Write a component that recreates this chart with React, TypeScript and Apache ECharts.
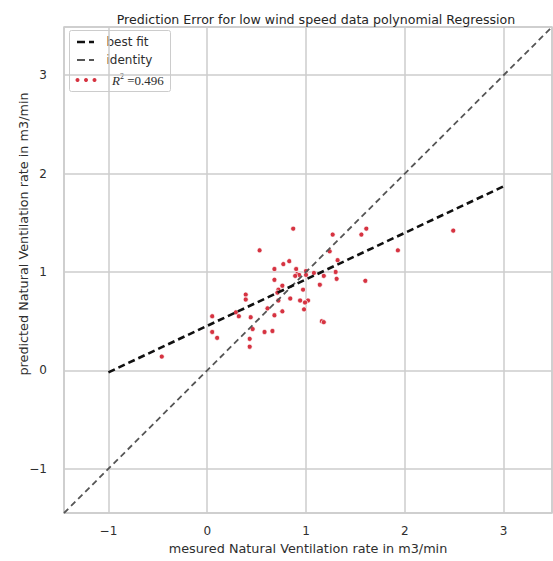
import React, { useEffect, useRef } from "react";
import * as echarts from "echarts";

const measured = [
  0.87, 1.27, 1.56, 1.61, 0.53, 1.24, 1.93, 1.32, 0.83, 0.77, 0.68, 0.9, 1.0, 0.91,
  0.93, 1.08, 1.3, 0.89, 1.0, 1.18, 0.68, 1.31, 1.6, 0.76, 1.14, 0.72, 0.97, 0.71,
  0.39, 0.39, 0.84, 0.72, 0.94, 1.02, 0.99, 0.61, 0.98, 0.76, 0.29, 0.32, 0.68, 0.05,
  0.44, 1.16, 1.18, 0.05, 0.46, 0.58, 0.66, 0.1, 0.43, 0.43, -0.46, 2.49,
];
const predicted = [
  1.44, 1.38, 1.38, 1.44, 1.22, 1.21, 1.22, 1.12, 1.11, 1.08, 1.03, 1.03, 1.01, 0.98,
  0.97, 0.99, 1.0, 0.96, 0.97, 0.96, 0.92, 0.93, 0.91, 0.86, 0.87, 0.82, 0.82, 0.79,
  0.77, 0.72, 0.73, 0.71, 0.71, 0.71, 0.69, 0.63, 0.62, 0.6, 0.59, 0.55, 0.56, 0.55,
  0.54, 0.5, 0.49, 0.39, 0.42, 0.39, 0.4, 0.33, 0.32, 0.24, 0.14, 1.42,
];
const bestFitX = [-1, 3];
const bestFitY = [-0.02, 1.87];
const identityRange = [-1.45, 3.49];
const legendLabels = ["best fit", "identity"];
const r2Value = "0.496";
const titleText = "Prediction Error for low wind speed data polynomial Regression";
const xAxisTitle = "mesured Natural Ventilation rate in m3/min";
const yAxisTitle = "predicted Natural Ventilation rate in m3/min";

const RED = "#d63341";
const GRID = "#cccccc";
const TEXT = "#2e2e2e";
const FONT = "DejaVu Sans";

export default function App() {
  const ref = useRef<HTMLDivElement>(null);
  useEffect(() => {
    if (!ref.current) return;
    const chart = echarts.init(ref.current, undefined, { renderer: "svg" });
    const fmt = (v: number) =>
      Number.isInteger(v) ? String(v).replace("-", "\u2212") : "";
    const axisCommon = {
      type: "value" as const,
      min: identityRange[0],
      max: identityRange[1],
      minInterval: 1,
      maxInterval: 1,
      axisLine: { show: false },
      axisTick: { show: false },
      splitLine: { show: true, lineStyle: { color: GRID, width: 1.5 } },
      axisLabel: {
        showMinLabel: false,
        showMaxLabel: false,
        formatter: fmt,
        color: TEXT,
        fontFamily: FONT,
        fontSize: 12,
      },
    };
    chart.setOption({
      animation: false,
      backgroundColor: "#ffffff",
      title: {
        text: titleText,
        left: 311,
        textAlign: "center",
        top: 8,
        textStyle: { fontFamily: FONT, fontSize: 12.6, fontWeight: "normal", color: "#262626" },
      },
      grid: {
        left: 64,
        right: 1,
        top: 27,
        bottom: 48,
        show: true,
        borderColor: GRID,
        borderWidth: 1.5,
        backgroundColor: "transparent",
      },
      xAxis: {
        ...axisCommon,
        name: xAxisTitle,
        nameLocation: "middle",
        nameGap: 27,
        nameTextStyle: { fontFamily: FONT, fontSize: 12.8, color: TEXT },
        axisLabel: { ...axisCommon.axisLabel, margin: 12 },
      },
      yAxis: {
        ...axisCommon,
        axisLabel: { ...axisCommon.axisLabel, margin: 17 },
      },
      series: [
        {
          type: "scatter",
          data: measured.map((m, i) => [m, predicted[i]]),
          symbolSize: 5,
          itemStyle: { color: RED, borderColor: "#ffffff", borderWidth: 0.7, opacity: 1 },
          z: 2,
        },
        {
          type: "line",
          data: [
            [identityRange[0], identityRange[0]],
            [identityRange[1], identityRange[1]],
          ],
          symbol: "none",
          lineStyle: { color: "#555555", width: 1.8, type: [6, 4] },
          z: 3,
        },
        {
          type: "line",
          data: bestFitX.map((x, i) => [x, bestFitY[i]]),
          symbol: "none",
          lineStyle: { color: "#111111", width: 2.6, type: [7, 4] },
          z: 4,
        },
      ],
      graphic: [
        {
          type: "text",
          x: 23,
          y: 234,
          rotation: Math.PI / 2,
          style: {
            text: yAxisTitle,
            fontFamily: FONT,
            fontSize: 12.8,
            fill: TEXT,
            textAlign: "center",
            textVerticalAlign: "middle",
          },
        },
        {
          type: "group",
          z: 100,
          children: [
            {
              type: "rect",
              shape: { x: 69.5, y: 30.5, width: 101, height: 61, r: 2 },
              style: { fill: "rgba(255,255,255,0.85)", stroke: GRID, lineWidth: 1 },
            },
            {
              type: "line",
              shape: { x1: 77, y1: 42, x2: 94, y2: 42 },
              style: { stroke: "#111111", lineWidth: 2.6, lineDash: [8, 4] },
            },
            {
              type: "line",
              shape: { x1: 77, y1: 60, x2: 94, y2: 60 },
              style: { stroke: "#555555", lineWidth: 1.8, lineDash: [8, 4] },
            },
            { type: "circle", shape: { cx: 77.5, cy: 80, r: 2 }, style: { fill: RED } },
            { type: "circle", shape: { cx: 86, cy: 80, r: 2 }, style: { fill: RED } },
            { type: "circle", shape: { cx: 94.5, cy: 80, r: 2 }, style: { fill: RED } },
            {
              type: "text",
              x: 106.5,
              y: 42,
              style: {
                text: legendLabels[0],
                fontFamily: FONT,
                fontSize: 12,
                fill: TEXT,
                textVerticalAlign: "middle",
              },
            },
            {
              type: "text",
              x: 106.5,
              y: 60,
              style: {
                text: legendLabels[1],
                fontFamily: FONT,
                fontSize: 12,
                fill: TEXT,
                textVerticalAlign: "middle",
              },
            },
            {
              type: "text",
              x: 112,
              y: 80,
              style: {
                text: "{i|R}{s|2}{n| =" + r2Value + "}",
                textVerticalAlign: "middle",
                rich: {
                  i: { fontFamily: "Liberation Serif", fontStyle: "italic", fontSize: 13, fill: TEXT, lineHeight: 15 },
                  s: { fontFamily: "Liberation Serif", fontSize: 8, fill: TEXT, verticalAlign: "top", lineHeight: 15 },
                  n: { fontFamily: "Liberation Serif", fontSize: 13, fill: TEXT, lineHeight: 15 },
                },
              },
            },
          ],
        },
      ],
    });
    return () => chart.dispose();
  }, []);
  return (
    <div
      ref={ref}
      style={{ position: "fixed", left: 0, top: 0, width: 553, height: 561 }}
    />
  );
}
